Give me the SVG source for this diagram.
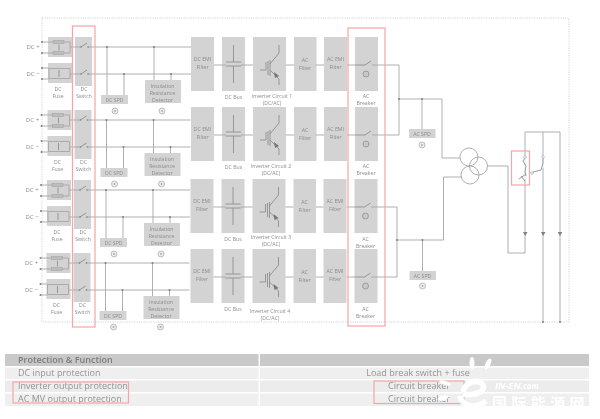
<svg xmlns="http://www.w3.org/2000/svg" width="600" height="419" viewBox="0 0 600 419">
<style>
text{font-family:"Open Sans","Liberation Sans",sans-serif;font-size:5.2px;fill:#8c8c8c;text-anchor:middle}
.b{fill:#d3d3d3}
.l{fill:none;stroke:#a6a6a6;stroke-width:.9}
.d{fill:none;stroke:#8f8f8f;stroke-width:.9}
.lb{font-size:6px}
.t{font-size:9px;text-anchor:start;fill:#949494}
.tc{font-size:9px;fill:#949494}
.r{fill:none;stroke:#f5a5a5;stroke-width:1.2}
.w{fill:#fff}
</style>
<defs>
<filter id="blur" x="0" y="0" width="600" height="419" filterUnits="userSpaceOnUse"><feGaussianBlur stdDeviation="0.55"/></filter>
<g id="fuseP"><rect class="b" x="48" y="37" width="24" height="20"/><rect x="53" y="40.500" width="11" height="3" fill="#bcbcbc" stroke="#a0a0a0" stroke-width=".5"/><rect x="53" y="51.500" width="11" height="3" fill="#bcbcbc" stroke="#a0a0a0" stroke-width=".5"/><path class="d" d="M59 44.500V50.500"/></g>
<g id="fuseN"><rect class="b" x="48" y="63" width="24" height="20"/><path class="d" d="M59 70V77"/></g>
<g id="sw"><rect class="b" x="75" y="37" width="17" height="49"/><path class="d" d="M81 47L87 43M81 74L87 70"/></g>
<g id="gnd"><circle cx="0" cy="0" r="3" fill="#ececec" stroke="#a8a8a8" stroke-width=".7"/><circle r=".9" fill="#aaa"/></g>
<g id="igbt"><path class="d" d="M260 70H266V62M268 61V75M270 60V76M270 64L279 53V45M270 70L279 79V85"/><path d="M274 72L279 76L275 78Z" fill="#777"/></g>
<g id="cap"><path class="d" d="M233.500 45V62M226 62H241M226 66H241M233.500 66V83"/></g>
<g id="brk"><path class="d" d="M355 65H365L371 61"/><circle cx="366" cy="74" r="3" fill="#c8c8c8" stroke="#8f8f8f" stroke-width=".8"/></g>
<g id="leftWires"><path class="l" d="M42 42H53M42 53H53M64 42H70V53H64M70 47H81M88 47H191M42 68H49M42 79H49M49 68.500H70V78.500H49ZM70 74H81M88 74H191M107 47V95M124 74V95M154 47V80M171 74V80"/>
<g fill="#808080"><circle cx="42" cy="42" r="1"/><circle cx="42" cy="53" r="1"/><circle cx="42" cy="68" r="1"/><circle cx="42" cy="79" r="1"/><circle cx="107" cy="47" r="1"/><circle cx="124" cy="74" r="1"/><circle cx="154" cy="47" r="1"/><circle cx="171" cy="74" r="1"/><circle cx="81" cy="47" r=".8"/><circle cx="88" cy="47" r=".8"/><circle cx="81" cy="74" r=".8"/><circle cx="88" cy="74" r=".8"/></g></g>
</defs>
<rect width="600" height="419" fill="#fff"/>
<g filter="url(#blur)">
<path d="M42 18H569V322H42Z" fill="none" stroke="#c8c8c8" stroke-width=".8" stroke-dasharray="1.2 1.2"/>

<g id="row1-left">
<text x="33" y="49" class="lb">DC +</text><text x="33" y="76" class="lb">DC −</text>
<g id="fuse1"><use href="#fuseP"/><use href="#fuseN"/><text x="58" y="90.500">DC</text><text x="58" y="97.500">Fuse</text></g>
<g id="switch1"><use href="#sw"/><text x="84" y="90.500">DC</text><text x="84" y="97.500">Switch</text></g>
<g id="spd1"><rect class="b" x="101" y="95" width="27" height="9"/><text x="114.500" y="102">DC SPD</text><use href="#gnd" x="115" y="111"/></g>
<g id="ins1"><rect class="b" x="145" y="80" width="36" height="23"/><text x="162.500" y="88">Insulation</text><text x="162.500" y="95">Resistance</text><text x="162.500" y="102">Detector</text><use href="#gnd" x="162" y="111"/></g>
</g>
<g id="row2-left" transform="translate(-.5 73)">
<text x="33" y="49" class="lb">DC +</text><text x="33" y="76" class="lb">DC −</text>
<g id="fuse2"><use href="#fuseP"/><use href="#fuseN"/><text x="58" y="90.500">DC</text><text x="58" y="97.500">Fuse</text></g>
<g id="switch2"><use href="#sw"/><text x="84" y="90.500">DC</text><text x="84" y="97.500">Switch</text></g>
<g id="spd2"><rect class="b" x="101" y="95" width="27" height="9"/><text x="114.500" y="102">DC SPD</text><use href="#gnd" x="115" y="111"/></g>
<g id="ins2"><rect class="b" x="145" y="80" width="36" height="23"/><text x="162.500" y="88">Insulation</text><text x="162.500" y="95">Resistance</text><text x="162.500" y="102">Detector</text><use href="#gnd" x="162" y="111"/></g>
</g>
<g id="row3-left" transform="translate(-1 143)">
<text x="33" y="49" class="lb">DC +</text><text x="33" y="76" class="lb">DC −</text>
<g id="fuse3"><use href="#fuseP"/><use href="#fuseN"/><text x="58" y="90.500">DC</text><text x="58" y="97.500">Fuse</text></g>
<g id="switch3"><use href="#sw"/><text x="84" y="90.500">DC</text><text x="84" y="97.500">Switch</text></g>
<g id="spd3"><rect class="b" x="101" y="95" width="27" height="9"/><text x="114.500" y="102">DC SPD</text><use href="#gnd" x="115" y="111"/></g>
<g id="ins3"><rect class="b" x="145" y="80" width="36" height="23"/><text x="162.500" y="88">Insulation</text><text x="162.500" y="95">Resistance</text><text x="162.500" y="102">Detector</text><use href="#gnd" x="162" y="111"/></g>
</g>
<g id="row4-left" transform="translate(-1.500 216)">
<text x="33" y="49" class="lb">DC +</text><text x="33" y="76" class="lb">DC −</text>
<g id="fuse4"><use href="#fuseP"/><use href="#fuseN"/><text x="58" y="90.500">DC</text><text x="58" y="97.500">Fuse</text></g>
<g id="switch4"><use href="#sw"/><text x="84" y="90.500">DC</text><text x="84" y="97.500">Switch</text></g>
<g id="spd4"><rect class="b" x="101" y="95" width="27" height="9"/><text x="114.500" y="102">DC SPD</text><use href="#gnd" x="115" y="111"/></g>
<g id="ins4"><rect class="b" x="145" y="80" width="36" height="23"/><text x="162.500" y="88">Insulation</text><text x="162.500" y="95">Resistance</text><text x="162.500" y="102">Detector</text><use href="#gnd" x="162" y="111"/></g>
</g>

<g id="row1-right">
<g id="dcemi1"><rect class="b" x="191" y="37" width="23" height="54"/><text x="202.500" y="61">DC EMI</text><text x="202.500" y="69">Filter</text></g>
<g id="dcbus1"><rect class="b" x="222" y="37" width="23" height="54"/><use href="#cap"/><text x="233.500" y="99">DC Bus</text></g>
<g id="inv1"><rect class="b" x="253" y="37" width="33" height="54"/><use href="#igbt"/><text x="272" y="98">Inverter Circuit 1</text><text x="272" y="105">(DC/AC)</text></g>
<g id="acf1"><rect class="b" x="294" y="37" width="22.500" height="54"/><text x="305" y="62">AC</text><text x="305" y="70">Filter</text></g>
<g id="acemi1"><rect class="b" x="324" y="37" width="23" height="54"/><text x="335.500" y="61">AC EMI</text><text x="335.500" y="69">Filter</text></g>
<g id="brk1"><rect class="b" x="355" y="37" width="23" height="54"/><use href="#brk"/><text x="366" y="98">AC</text><text x="366" y="105">Breaker</text></g>
</g>
<g id="row2-right" transform="translate(0 70)">
<g id="dcemi2"><rect class="b" x="191" y="37" width="23" height="54"/><text x="202.500" y="61">DC EMI</text><text x="202.500" y="69">Filter</text></g>
<g id="dcbus2"><rect class="b" x="222" y="37" width="23" height="54"/><use href="#cap"/><text x="233.500" y="99">DC Bus</text></g>
<g id="inv2"><rect class="b" x="253" y="37" width="33" height="54"/><use href="#igbt"/><text x="271" y="98">Inverter Circuit 2</text><text x="271" y="105">(DC/AC)</text></g>
<g id="acf2"><rect class="b" x="294" y="37" width="22.500" height="54"/><text x="305" y="62">AC</text><text x="305" y="70">Filter</text></g>
<g id="acemi2"><rect class="b" x="324" y="37" width="23" height="54"/><text x="335.500" y="61">AC EMI</text><text x="335.500" y="69">Filter</text></g>
<g id="brk2"><rect class="b" x="355" y="37" width="23" height="54"/><use href="#brk"/><text x="366" y="98">AC</text><text x="366" y="105">Breaker</text></g>
</g>
<g id="row3-right" transform="translate(-.5 142)">
<g id="dcemi3"><rect class="b" x="191" y="37" width="23" height="54"/><text x="202.500" y="61">DC EMI</text><text x="202.500" y="69">Filter</text></g>
<g id="dcbus3"><rect class="b" x="222" y="37" width="23" height="54"/><use href="#cap"/><text x="233.500" y="99">DC Bus</text></g>
<g id="inv3"><rect class="b" x="253" y="37" width="33" height="54"/><use href="#igbt"/><text x="271.500" y="97">Inverter Circuit 3</text><text x="271.500" y="104">(DC/AC)</text></g>
<g id="acf3"><rect class="b" x="294" y="37" width="22.500" height="54"/><text x="305" y="62">AC</text><text x="305" y="70">Filter</text></g>
<g id="acemi3"><rect class="b" x="324" y="37" width="23" height="54"/><text x="335.500" y="61">AC EMI</text><text x="335.500" y="69">Filter</text></g>
<g id="brk3"><rect class="b" x="355" y="37" width="23" height="54"/><use href="#brk"/><text x="366" y="99">AC</text><text x="366" y="106">Breaker</text></g>
</g>
<g id="row4-right" transform="translate(-.5 212)">
<g id="dcemi4"><rect class="b" x="191" y="37" width="23" height="54"/><text x="202.500" y="61">DC EMI</text><text x="202.500" y="69">Filter</text></g>
<g id="dcbus4"><rect class="b" x="222" y="37" width="23" height="54"/><use href="#cap"/><text x="233.500" y="99">DC Bus</text></g>
<g id="inv4"><rect class="b" x="253" y="37" width="33" height="54"/><use href="#igbt"/><text x="270.500" y="100.500">Inverter Circuit 4</text><text x="270.500" y="107.500">(DC/AC)</text></g>
<g id="acf4"><rect class="b" x="294" y="37" width="22.500" height="54"/><text x="305" y="62">AC</text><text x="305" y="70">Filter</text></g>
<g id="acemi4"><rect class="b" x="324" y="37" width="23" height="54"/><text x="335.500" y="61">AC EMI</text><text x="335.500" y="69">Filter</text></g>
<g id="brk4"><rect class="b" x="355" y="37" width="23" height="54"/><use href="#brk"/><text x="366" y="99">AC</text><text x="366" y="106">Breaker</text></g>
</g>

<g id="acspd1"><rect class="b" x="409" y="129" width="26.500" height="9"/><text x="422" y="135.500">AC SPD</text><use href="#gnd" x="422" y="145"/></g>
<g id="acspd2"><rect class="b" x="409.500" y="271" width="26.500" height="9"/><text x="422.500" y="277.500">AC SPD</text><use href="#gnd" x="422.500" y="286"/></g>
<g id="transformer" fill="none" stroke="#a6a6a6" stroke-width=".9"><circle cx="469" cy="157" r="9"/><circle cx="478.500" cy="166" r="9"/><circle cx="470" cy="175" r="9"/></g>

<g id="connectors">
<use href="#leftWires"/>
<use href="#leftWires" transform="translate(-.5 73)"/>
<use href="#leftWires" transform="translate(-1 143)"/>
<use href="#leftWires" transform="translate(-1.500 216)"/>
<path class="l" d="M214 65H226M241 65H253M286 65H294M316 65H324M347 65H355M372 65H399V135H372M214 135H226M241 135H253M286 135H294M316 135H324M347 135H355"/>
<path class="l" d="M213.500 207H225.500M240.500 207H252.500M285.500 207H293.500M316 207H323.500M346.500 207H354.500M371 207H397V277H371M213.500 277H225.500M240.500 277H252.500M285.500 277H293.500M316 277H323.500M346.500 277H354.500"/>
<path class="l" d="M399 99H442V158H460M422 99V129M397 240H443.500V177H461M422.500 240V271"/>
<path class="l" d="M488 166H508V253H525V132H560V322M543 132V322"/>
<g fill="#808080"><circle cx="399" cy="99" r="1"/><circle cx="422" cy="99" r="1"/><circle cx="397" cy="240" r="1"/><circle cx="422.500" cy="240" r="1"/><circle cx="543" cy="322" r="1"/><circle cx="560" cy="322" r="1"/><path d="M523 232H527.500L525.200 236ZM541 232H545.500L543.200 236ZM557.700 232H562.300L560 236Z"/></g>
<path d="M525 158V180M543 158V168" stroke="#fff" stroke-width="1.400"/>
<path class="d" d="M525 158L523 161L526 166L525 172L526 176M526 174L519 179M521 176L525 181" stroke-width=".7"/>
<path class="d" d="M543 158V163L541 170L533 172" stroke-width=".7"/>
<g fill="#fff" stroke="#a0a0a0" stroke-width=".6"><circle cx="525" cy="157" r="1.300"/><circle cx="543" cy="157" r="1.300"/><circle cx="532" cy="173" r="1.300"/></g>
</g>

<g id="highlights">
<rect class="r" x="72.500" y="26" width="22.500" height="301"/>
<rect class="r" x="348" y="28" width="37" height="298"/>
<rect class="r" x="511.500" y="151" width="18" height="34"/>
</g>

<g id="table">
<rect x="5" y="354" width="253.500" height="12" fill="#c9c9c9"/><rect x="260" y="354" width="329" height="12" fill="#c9c9c9"/>
<rect x="5" y="367.500" width="253.500" height="11.500" fill="#efefef"/><rect x="260" y="367.500" width="329" height="11.500" fill="#efefef"/>
<rect x="5" y="380.500" width="253.500" height="11.500" fill="#ececec"/><rect x="260" y="380.500" width="329" height="11.500" fill="#ececec"/>
<rect x="5" y="393.500" width="253.500" height="12.500" fill="#efefef"/><rect x="260" y="393.500" width="329" height="12.500" fill="#efefef"/>
<text class="t" x="18" y="363" style="font-weight:600;fill:#7c7c7c">Protection &amp; Function</text>
<text class="t" x="18" y="376">DC input protection</text>
<text class="t" x="18" y="389">Inverter output protection</text>
<text class="t" x="18" y="402">AC MV output protection</text>
<text class="tc" x="418" y="376">Load break switch + fuse</text>
<text class="tc" x="419" y="389">Circuit breaker</text>
<text class="tc" x="419" y="402">Circuit breaker</text>
<rect class="r" x="13" y="382" width="115.500" height="21" stroke-width=".9"/>
<rect class="r" x="374" y="381" width="90" height="22.500" stroke-width=".9"/>
</g>

<g id="watermark">
<ellipse class="w" cx="472" cy="363" rx="2.500" ry="6"/><ellipse class="w" cx="488" cy="364" rx="2.500" ry="6" transform="rotate(25 488 364)"/>
<ellipse class="w" cx="445" cy="383" rx="6" ry="2" transform="rotate(20 445 383)"/><ellipse class="w" cx="443" cy="398" rx="5.500" ry="2.500" transform="rotate(-15 443 398)"/>
<path d="M463 392C465 382 478 378 483 385C486 392 474 396 463 394M460 396C462 406 474 410 486 401" fill="none" stroke="#fff" stroke-width="5.500"/>
<text x="495" y="389" style="font-size:9.500px;font-weight:700;font-style:italic;fill:#fff;text-anchor:start">IN-EN<tspan style="font-size:8px">.com</tspan></text>
<text x="492" y="409" style="font-family:'Noto Sans CJK SC',sans-serif;font-size:15px;letter-spacing:4.400px;font-weight:700;fill:#fff;text-anchor:start">国际能源网</text>
</g>
</g>
</svg>
